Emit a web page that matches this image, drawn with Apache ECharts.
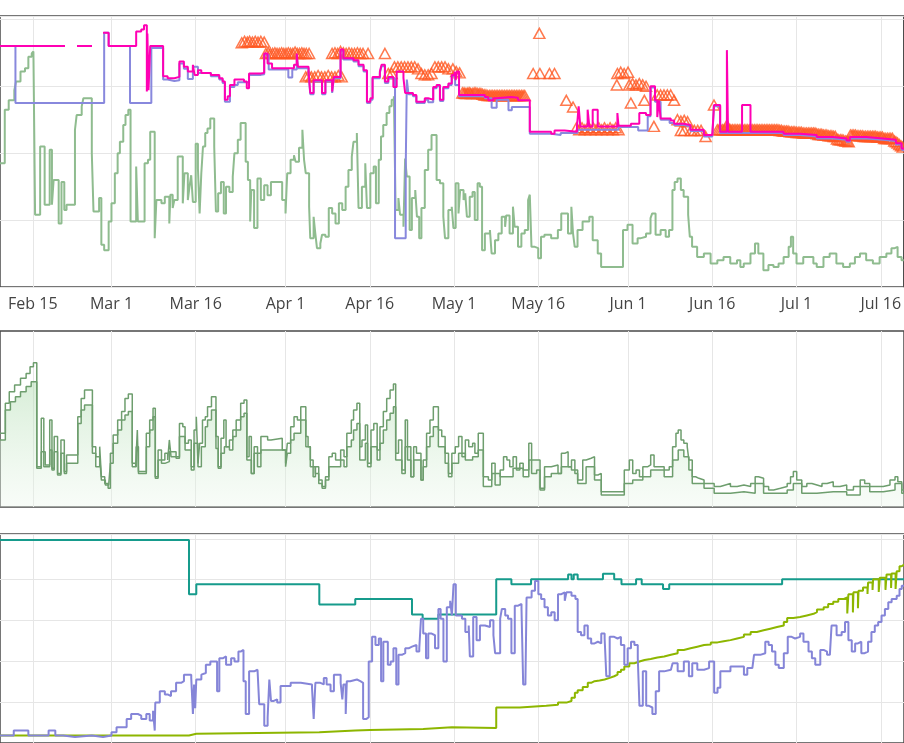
<!DOCTYPE html>
<html>
<head>
<meta charset="utf-8">
<script src="https://cdn.jsdelivr.net/npm/echarts@6/dist/echarts.min.js"></script>
<style>
html, body { margin: 0; padding: 0; background: #fff; }
#chart { width: 904px; height: 743px; }
</style>
</head>
<body>
<div id="chart"></div>
<script>
// x values are days counted from Feb 15
var tickDays = [0, 14, 29, 45, 60, 75, 90, 106, 121, 136, 151];
var tickLabels = ['Feb 15', 'Mar 1', 'Mar 16', 'Apr 1', 'Apr 16', 'May 1', 'May 16', 'Jun 1', 'Jun 16', 'Jul 1', 'Jul 16'];
var dayMin = -5.85, dayMax = 155.1;

// panel 1 : prices
var buyBoxLead = [[-5.85, 36.0], [12.5, 36.0]];
var buyBox = [[12.5,38.0],[13.5,36.0],[18.4,38.2],[19.3,38.5],[19.8,39.1],[20.3,29.2],[20.4,37.9],[20.6,29.4],[20.9,36.0],[23.2,31.5],[24.0,31.2],[25.2,31.4],[26.1,33.7],[26.9,32.9],[27.6,32.2],[28.5,33.2],[28.8,31.7],[29.4,32.4],[30.0,32.0],[31.7,31.7],[33.2,31.2],[33.8,30.7],[34.2,28.0],[34.7,28.5],[35.1,30.2],[35.9,31.0],[37.6,30.7],[38.1,29.7],[38.5,31.9],[40.6,32.0],[41.2,34.9],[41.8,33.4],[42.6,32.7],[44.7,32.7],[46.5,33.2],[47.0,34.9],[47.2,32.9],[49.1,32.2],[49.4,29.0],[50.0,30.9],[51.5,29.0],[52.1,30.9],[53.3,29.2],[53.6,31.4],[54.8,35.5],[55.3,34.2],[57.1,33.9],[58.0,33.2],[58.9,32.4],[59.5,27.7],[60.1,28.2],[60.5,31.4],[61.8,32.2],[62.1,33.2],[62.7,30.7],[63.3,31.4],[64.2,29.9],[64.8,32.2],[66.0,31.2],[66.3,29.0],[67.7,28.7],[68.3,27.7],[69.8,28.2],[70.4,28.0],[71.3,29.9],[71.9,30.2],[72.5,28.0],[73.1,29.9],[74.0,30.4],[74.6,31.7],[75.1,32.2],[75.3,30.9],[75.5,32.2],[75.9,28.7],[80.5,28.4],[81.1,27.9],[82.0,28.2],[82.6,28.4],[85.2,28.3],[86.4,27.9],[88.5,23.2],[92.3,22.9],[92.9,23.4],[94.7,23.2],[96.9,24.0],[97.2,27.0],[97.5,24.0],[98.8,26.5],[99.1,24.0],[99.7,26.5],[100.6,24.0],[104.1,26.0],[104.3,24.1],[106.5,24.4],[108.0,26.0],[109.2,25.7],[110.0,30.0],[110.8,27.9],[111.2,25.4],[111.5,27.9],[111.8,25.2],[113.6,24.9],[114.2,24.4],[115.9,24.2],[117.1,23.5],[119.5,22.7],[121.0,22.9],[121.3,27.2],[122.4,23.2],[123.6,35.4],[123.8,23.2],[126.3,27.2],[127.8,23.2],[133.7,22.9],[136.6,22.7],[139.6,22.4],[142.5,22.2],[144.9,21.9],[145.5,22.4],[148.4,22.2],[151.4,22.0],[153.7,21.5],[154.7,20.7],[155.1,20.5]];
var newPrice = [[-5.85,36.0],[-3.1,27.5],[12.7,38.0],[13.5,36.0],[17.3,27.5],[21.1,35.7],[23.2,31.0],[24.0,30.8],[25.2,30.9],[26.1,33.4],[26.9,32.6],[27.6,31.1],[28.5,32.9],[29.4,32.0],[31.7,31.5],[33.2,31.0],[33.8,30.5],[34.2,27.7],[35.1,29.9],[35.9,30.2],[36.5,30.6],[38.5,31.7],[40.6,31.8],[41.2,34.7],[42.0,32.5],[44.7,32.5],[45.5,31.3],[46.2,32.5],[47.0,34.7],[47.2,32.7],[49.1,32.0],[49.4,28.8],[50.0,30.7],[51.5,28.8],[52.1,30.7],[53.3,29.0],[53.6,31.2],[54.8,35.3],[55.3,34.0],[57.1,33.7],[58.0,33.0],[58.9,32.2],[59.5,27.5],[60.1,28.0],[60.5,31.2],[61.8,32.0],[62.1,33.0],[62.7,30.5],[63.3,31.2],[64.5,7.3],[66.4,17.5],[66.6,31.0],[66.9,28.8],[67.7,28.5],[68.3,27.5],[69.8,28.0],[70.4,27.6],[71.3,29.7],[71.9,30.0],[72.5,27.8],[73.1,29.7],[74.0,30.2],[74.6,31.5],[75.2,30.2],[75.9,28.5],[80.5,28.2],[81.7,26.8],[82.6,28.0],[84.7,26.4],[85.3,26.9],[87.3,26.9],[88.5,22.9],[92.3,22.7],[94.0,23.0],[97.0,23.5],[104.3,23.9],[107.8,23.4],[109.5,25.5],[110.0,29.8],[110.8,27.7],[111.8,25.0],[113.4,24.5],[114.2,24.2],[115.9,24.0],[117.1,23.3],[119.5,22.5],[121.0,22.7],[121.3,27.0],[122.4,23.0],[127.8,23.0],[133.7,22.7],[136.6,22.5],[139.6,22.2],[142.5,22.0],[144.9,21.7],[145.5,22.2],[148.4,22.0],[151.4,21.8],[153.7,21.3],[154.7,20.5],[155.1,20.3]];
var salesRank = [[-5.85,18.5],[-5.0,26.5],[-4.3,27.9],[-3.3,29.4],[-3.0,30.7],[-2.2,32.2],[-1.4,32.7],[-0.8,34.4],[-0.2,34.9],[0.1,35.2],[0.4,10.8],[1.3,21.0],[2.1,12.3],[3.0,20.5],[3.4,12.3],[3.7,16.0],[4.6,9.5],[5.1,15.7],[5.6,11.5],[6.0,12.3],[7.5,23.5],[7.8,25.7],[8.7,27.0],[9.0,28.2],[10.5,20.0],[10.8,11.3],[11.8,13.3],[12.2,6.3],[12.7,5.5],[13.5,9.8],[14.0,12.5],[14.6,17.0],[15.1,20.0],[15.5,21.7],[16.1,24.2],[16.5,25.7],[17.0,26.5],[17.4,9.8],[18.4,18.0],[18.7,9.8],[19.9,18.5],[20.5,19.0],[20.9,23.2],[21.7,7.3],[22.0,13.0],[22.9,12.5],[23.5,13.5],[24.3,9.5],[24.5,13.8],[24.9,11.8],[25.2,13.0],[25.8,19.5],[26.7,12.5],[27.0,17.0],[27.6,13.0],[27.9,15.0],[28.2,16.7],[28.5,12.7],[29.0,21.4],[29.4,17.7],[29.7,11.0],[30.0,17.0],[30.3,21.0],[30.7,23.0],[31.1,23.7],[31.6,25.2],[32.3,21.0],[32.6,11.3],[33.0,14.0],[33.5,15.7],[34.0,11.0],[34.4,15.0],[35.0,14.2],[35.6,16.5],[35.9,20.0],[36.5,22.0],[37.0,24.5],[37.9,18.7],[38.3,16.0],[38.7,9.8],[38.9,14.5],[39.4,8.8],[40.0,16.2],[40.6,13.0],[41.2,15.2],[41.8,13.7],[42.4,15.7],[44.4,13.0],[45.0,11.0],[45.3,17.0],[45.9,19.0],[46.5,19.7],[46.8,18.7],[47.4,20.8],[48.0,23.5],[48.3,19.0],[48.6,17.0],[49.2,12.0],[49.4,7.3],[50.0,10.5],[50.3,8.0],[50.6,5.8],[51.2,6.5],[51.5,7.8],[52.1,7.5],[52.7,11.8],[53.3,11.0],[53.9,9.5],[54.5,12.5],[55.1,11.5],[55.7,15.0],[56.2,17.5],[56.8,19.5],[57.1,21.7],[57.7,23.0],[58.0,11.8],[58.6,15.0],[59.2,18.5],[59.5,11.8],[60.1,17.0],[60.7,18.0],[61.1,12.5],[61.6,19.0],[62.0,22.5],[62.4,24.2],[63.0,26.0],[63.5,27.0],[63.9,28.0],[64.3,28.5],[64.6,11.5],[65.1,13.3],[65.4,10.8],[66.0,9.0],[66.3,19.2],[66.6,16.5],[67.1,8.5],[67.5,13.3],[68.1,14.5],[68.4,10.5],[68.8,7.3],[69.2,11.8],[69.8,17.5],[70.4,20.5],[71.0,22.7],[71.9,16.0],[72.5,15.5],[73.1,10.5],[73.4,7.3],[74.0,11.5],[74.6,12.0],[74.9,8.8],[75.3,15.5],[75.8,11.0],[76.1,14.5],[76.7,13.0],[77.0,14.0],[77.3,10.5],[77.8,13.5],[78.3,14.2],[78.7,10.0],[79.2,15.5],[79.6,15.0],[80.0,5.5],[80.5,8.0],[81.4,8.5],[81.7,5.0],[82.3,7.0],[82.9,8.0],[83.5,10.5],[84.1,9.0],[84.3,10.7],[84.9,8.0],[85.5,12.0],[85.8,9.0],[86.4,6.0],[87.0,8.0],[87.6,8.5],[88.2,13.0],[88.5,13.8],[88.8,6.0],[89.4,5.8],[90.0,4.3],[90.5,7.5],[91.1,7.8],[92.3,7.3],[93.5,8.5],[94.1,11.0],[95.3,8.0],[95.9,12.0],[96.2,8.0],[96.5,6.0],[97.0,8.5],[97.9,9.8],[99.1,10.5],[99.7,7.0],[100.6,5.0],[101.2,3.0],[105.1,8.5],[105.9,9.3],[106.8,6.5],[107.7,7.3],[108.3,7.5],[109.2,8.0],[110.0,10.3],[110.3,11.0],[110.9,7.8],[111.8,8.5],[112.7,7.5],[113.3,8.5],[113.9,14.5],[114.3,15.7],[114.8,16.2],[115.4,14.5],[115.9,13.5],[116.7,10.8],[117.0,7.5],[117.4,6.0],[118.3,4.5],[119.5,5.0],[120.7,3.5],[121.9,4.0],[123.0,4.5],[124.2,3.5],[125.4,4.0],[126.0,3.0],[126.6,3.5],[127.8,5.0],[128.6,6.5],[129.2,5.0],[130.1,2.5],[131.0,3.3],[131.9,3.0],[132.8,3.5],[133.7,4.5],[134.6,6.0],[135.0,7.5],[135.4,5.0],[136.0,3.5],[137.2,4.5],[138.4,4.5],[139.0,3.5],[139.6,3.0],[140.8,4.5],[141.9,5.0],[143.1,3.5],[144.3,3.0],[145.5,3.5],[146.4,4.5],[147.3,5.0],[148.4,4.0],[149.6,3.5],[150.8,4.5],[152.0,5.0],[152.9,5.8],[153.5,6.0],[154.0,4.5],[154.7,4.0],[155.1,4.0]];
var fbaOffers = [[37.2,36.5],[37.7,36.7],[38.2,36.6],[38.6,36.7],[39.1,36.6],[39.6,36.7],[40.1,36.6],[40.6,36.7],[41.2,36.6],
  [41.5,34.9],[41.9,35.0],[42.3,34.9],[42.7,34.9],[43.1,35.0],[43.5,34.9],[43.9,34.9],[44.3,35.0],[44.7,34.9],[45.1,34.9],[45.5,35.0],[45.9,34.9],[46.3,34.9],[46.7,35.1],[47.1,34.9],[47.5,34.9],[47.9,35.0],[48.3,34.9],[48.7,34.9],[49.2,34.9],
  [48.6,31.4],[49.1,31.6],[49.6,31.4],[50.2,31.4],[50.8,31.6],[51.4,31.4],[52.0,31.4],[52.6,31.6],[53.2,31.4],[53.8,31.4],[54.4,31.6],[55.0,31.4],
  [53.3,34.9],[53.8,35.0],[54.3,34.9],[54.8,35.2],[55.3,35.0],[55.8,34.9],[56.3,35.0],[56.8,34.9],[57.3,34.9],[57.8,35.0],[58.3,34.9],[58.8,34.9],[59.7,34.9],
  [62.7,34.9],[63.3,31.9],[63.9,31.9],[64.4,32.9],[65.0,32.9],[65.6,32.9],[66.2,32.9],[66.8,32.9],[67.4,32.9],[68.0,32.9],[68.6,32.6],[69.2,31.9],[69.8,31.7],[70.4,31.7],[71.0,31.9],[71.6,32.9],[72.2,32.9],[72.8,32.9],[73.4,32.9],[74.0,32.6],
  [74.8,32.6],[75.4,32.2],[76.0,32.0],
  [76.5,29.0],[76.8,29.0],[77.0,28.9],[77.3,28.9],[77.5,29.0],[77.8,29.0],[78.0,28.9],[78.3,28.9],[78.6,29.0],[78.9,29.0],[79.2,28.9],[79.5,28.9],[79.8,28.9],[80.1,28.8],[80.4,28.7],[80.7,28.7],[81.0,28.6],[81.3,28.6],[81.6,28.6],[81.9,28.6],[82.2,28.6],[82.5,28.6],[82.8,28.6],[83.1,28.6],[83.4,28.6],[83.7,28.6],[84.0,28.6],[84.3,28.6],[84.6,28.6],[84.9,28.6],[85.2,28.6],[85.5,28.6],[85.8,28.6],[86.1,28.6],[86.4,28.6],[86.7,28.6],[87.0,28.6],[87.3,28.6],[87.6,28.6],
  [89.1,31.9],[90.3,31.9],[92.0,31.9],[92.9,31.9],[90.2,37.9],[95.0,27.9],[96.2,26.9],
  [96.8,23.8],[97.3,23.5],[97.8,23.8],[98.3,23.5],[98.8,23.8],[99.3,23.5],[99.8,23.8],[100.3,23.5],[100.8,23.8],[101.3,23.5],[101.8,23.8],[102.3,23.5],[102.8,23.8],[103.3,23.5],[103.8,23.8],[104.3,23.5],
  [104.1,31.9],[104.7,32.1],[105.3,31.9],[106.0,32.1],[104.0,30.2],[106.2,30.2],[106.8,30.4],[107.4,30.2],[108.0,30.4],[108.6,30.2],[109.2,30.0],
  [106.5,27.5],[108.9,27.9],[110.6,24.0],
  [111.2,28.7],[111.8,28.7],[112.4,28.7],[113.0,28.7],[113.6,28.7],[114.2,27.9],
  [114.8,25.0],[115.4,24.8],[116.0,24.9],[116.6,24.7],
  [115.4,23.4],[116.0,23.4],[117.2,23.4],[117.8,23.4],[118.4,23.4],[119.0,23.4],[119.8,22.5],
  [121.3,27.2],[123.6,24.2],
  [121.9,23.5],[122.2,23.5],[122.5,23.5],[122.8,23.5],[123.1,23.5],[123.4,23.5],[123.7,23.5],[124.0,23.5],[124.3,23.5],[124.6,23.5],[124.9,23.5],[125.2,23.5],[125.5,23.5],[125.8,23.5],[126.1,23.5],[126.4,23.5],[126.7,23.5],[127.0,23.5],[127.3,23.5],[127.6,23.5],[127.9,23.5],[128.2,23.5],[128.5,23.5],[128.8,23.5],[129.1,23.5],[129.4,23.5],[129.7,23.5],[130.0,23.5],[130.3,23.5],[130.6,23.5],[130.9,23.5],[131.2,23.5],[131.5,23.5],[131.8,23.5],[132.1,23.5],[132.4,23.5],[132.7,23.5],[133.0,23.4],[133.3,23.4],[133.6,23.3],[133.9,23.3],[134.2,23.3],[134.5,23.3],[134.8,23.2],[135.1,23.2],[135.4,23.2],[135.7,23.2],[136.0,23.1],[136.3,23.1],[136.6,23.1],[136.9,23.1],[137.2,23.0],[137.5,23.0],[137.8,23.0],[138.1,23.0],[138.4,23.0],[138.7,23.0],[139.0,23.0],[139.3,23.0],[139.6,22.9],[139.9,22.8],[140.2,22.8],[140.5,22.8],[140.8,22.7],[141.1,22.7],[141.4,22.7],[141.7,22.6],[142.0,22.6],[142.3,22.6],[142.6,22.5],[142.9,22.5],[143.2,22.1],[143.5,22.0],[143.8,22.0],[144.1,22.0],[144.4,21.9],[144.7,21.8],[145.0,21.8],[145.3,21.7],[145.6,22.7],[145.9,22.7],[146.2,22.7],[146.5,22.7],[146.8,22.6],[147.1,22.6],[147.4,22.6],[147.7,22.6],[148.0,22.5],[148.3,22.5],[148.6,22.5],[148.9,22.5],[149.2,22.5],[149.5,22.5],[149.8,22.5],[150.1,22.5],[150.4,22.4],[150.7,22.4],[151.0,22.4],[151.3,22.4],[151.6,22.2],[151.9,22.2],[152.2,22.2],[152.5,22.2],[152.8,22.2],[153.1,22.2],[153.4,21.8],[153.7,21.7],[154.0,21.5],[154.3,21.3],[154.6,21.1],[154.9,20.9]];

// panel 2 : rank band
var rankUpper = [[-5.85,41.9],[-4.9,58.9],[-4.2,65.5],[-3.25,69.3],[-2.2,73.1],[-1.2,75.9],[-0.5,79.7],[0.1,82.0],[0.7,22.9],[1.5,50.4],[1.95,22.9],[3.0,49.4],[3.4,22.0],[3.8,40.0],[4.4,19.1],[5.0,38.1],[5.6,20.1],[6.0,29.5],[8.0,51.3],[8.6,61.7],[9.2,66.5],[10.6,34.3],[11.2,28.6],[11.9,34.3],[12.2,17.2],[12.8,13.4],[13.4,10.6],[13.8,30.5],[14.3,40.9],[15.1,49.4],[15.8,54.2],[16.4,61.7],[17.0,64.2],[17.7,24.8],[18.3,22.9],[18.6,43.8],[18.8,20.1],[20.2,41.9],[20.8,49.4],[21.4,56.1],[21.8,17.2],[22.3,32.4],[22.9,26.7],[23.5,30.5],[24.0,26.7],[24.3,38.1],[24.6,28.6],[26.1,47.5],[26.7,45.6],[27.1,36.2],[27.7,38.1],[28.2,22.9],[28.7,43.8],[29.1,51.3],[29.4,24.8],[29.7,36.2],[30.2,49.4],[30.7,51.3],[31.1,57.0],[31.8,62.7],[32.6,40.0],[33.0,22.9],[33.5,39.0],[34.0,49.4],[34.4,34.3],[35.0,38.1],[35.6,43.8],[36.2,49.4],[37.0,58.9],[37.6,60.8],[38.1,28.6],[38.5,40.0],[38.9,19.1],[39.4,34.3],[40.0,22.9],[40.6,40.0],[41.8,38.1],[42.4,39.0],[44.4,32.4],[45.0,24.8],[45.3,36.2],[45.9,45.6],[46.5,51.3],[47.1,49.4],[47.7,57.0],[48.6,40.0],[49.0,34.3],[49.4,26.7],[49.9,17.2],[50.3,22.9],[50.9,15.3],[51.5,11.6],[52.1,17.2],[52.7,28.6],[53.3,30.5],[53.9,26.7],[54.8,32.4],[55.4,28.6],[55.9,41.9],[56.7,49.4],[57.1,55.1],[57.7,58.9],[58.2,34.3],[58.6,38.1],[59.2,46.6],[59.6,24.8],[60.2,43.8],[60.7,47.5],[61.3,32.4],[61.8,45.6],[62.4,54.2],[63.0,61.7],[63.6,66.5],[64.2,69.9],[64.6,30.5],[65.1,38.1],[65.7,21.0],[66.3,49.4],[66.7,26.7],[67.3,17.2],[67.8,34.3],[68.3,30.5],[69.1,15.3],[69.5,26.7],[70.1,41.9],[70.7,49.4],[71.3,57.0],[72.2,43.8],[72.8,40.0],[73.4,30.5],[74.0,19.1],[74.6,30.5],[75.2,34.3],[75.8,40.0],[76.4,28.6],[77.0,38.1],[77.6,34.3],[78.3,36.2],[78.7,30.5],[79.3,41.9],[80.2,17.2],[81.1,15.3],[81.7,24.8],[82.3,12.5],[83.2,21.0],[83.8,28.6],[84.4,26.7],[84.9,22.9],[85.5,28.6],[86.1,21.0],[86.7,24.8],[87.3,21.0],[88.3,36.2],[88.8,19.1],[89.7,21.0],[90.3,9.7],[91.1,22.9],[92.3,23.9],[93.5,19.1],[94.1,30.5],[94.7,31.4],[95.3,22.9],[95.9,26.7],[96.5,19.1],[97.0,15.3],[97.9,26.7],[98.5,27.7],[99.4,28.6],[100.0,18.2],[100.6,19.1],[101.2,8.7],[105.3,21.0],[106.2,26.7],[106.8,19.1],[107.4,21.0],[108.0,17.2],[108.6,22.9],[109.5,23.9],[110.0,29.5],[110.6,22.9],[112.4,21.0],[113.3,22.9],[113.9,34.3],[114.5,41.9],[114.9,43.8],[115.4,38.1],[115.9,36.2],[116.5,34.3],[116.8,26.7],[117.4,17.2],[118.0,16.3],[118.6,15.3],[119.5,13.4],[121.3,11.6],[122.4,12.5],[123.3,13.4],[124.2,11.6],[125.4,12.5],[126.6,11.6],[127.8,13.4],[128.6,17.2],[129.2,16.3],[130.1,11.6],[131.0,9.7],[131.9,10.6],[133.1,11.6],[134.3,13.4],[134.9,17.2],[135.4,20.1],[136.0,15.3],[136.9,11.6],[137.8,13.4],[138.7,12.5],[139.6,11.6],[140.5,13.4],[141.4,14.4],[142.5,11.6],[143.7,12.5],[144.9,9.7],[146.1,11.6],[147.3,15.3],[148.1,13.4],[149.0,11.6],[150.2,11.6],[151.4,12.5],[152.6,15.3],[153.5,17.2],[154.0,14.4],[154.7,9.7],[155.1,9.7]];
var rankLower = [[-5.85,38.1],[-4.9,55.1],[-4.0,59.8],[-3.1,62.7],[-2.2,65.5],[-1.2,68.4],[-0.3,71.2],[0.7,22.0],[1.5,31.4],[2.2,23.9],[3.0,32.4],[3.4,21.0],[3.8,31.4],[4.4,18.2],[5.0,30.5],[5.6,19.1],[6.0,24.8],[8.0,47.5],[8.6,55.1],[9.2,58.0],[10.6,30.5],[11.2,22.9],[11.9,28.6],[12.2,15.3],[12.9,12.5],[13.5,11.6],[13.8,24.8],[14.3,36.2],[15.1,43.8],[15.8,49.4],[16.4,52.3],[17.0,54.2],[17.7,22.9],[18.4,34.3],[18.8,19.1],[20.2,34.3],[20.8,43.8],[21.4,51.3],[21.8,16.3],[22.3,26.7],[22.9,24.8],[23.5,25.8],[24.3,31.4],[25.5,27.7],[26.1,40.0],[27.1,32.4],[28.2,21.0],[28.7,36.2],[29.4,22.9],[30.0,34.3],[30.7,45.6],[31.1,49.4],[31.8,55.1],[32.6,33.3],[33.0,22.0],[33.5,30.5],[34.1,34.3],[35.0,32.4],[35.6,40.0],[36.2,43.8],[37.0,51.3],[37.6,53.2],[38.1,26.7],[38.9,19.1],[39.4,30.5],[40.6,32.4],[45.0,22.9],[45.3,30.5],[45.9,38.1],[46.5,41.9],[47.7,49.4],[48.6,34.3],[49.4,22.9],[50.3,19.1],[50.9,13.4],[51.5,10.6],[52.1,15.3],[52.7,22.9],[54.8,26.7],[55.4,22.9],[55.9,34.3],[56.7,38.1],[57.1,43.8],[57.7,47.5],[58.2,26.7],[59.2,36.2],[59.6,22.9],[60.2,34.3],[61.3,26.7],[61.8,36.2],[62.4,43.8],[63.0,49.4],[63.6,53.2],[64.2,57.0],[64.6,26.7],[65.7,19.1],[66.3,34.3],[67.3,17.2],[67.8,26.7],[69.1,15.3],[69.5,22.9],[70.1,34.3],[70.7,40.0],[71.3,45.6],[72.2,34.3],[73.4,24.8],[74.0,17.2],[74.6,24.8],[75.8,30.5],[77.0,26.7],[78.3,28.6],[79.3,32.4],[80.2,11.6],[81.7,19.1],[83.2,17.2],[85.5,22.0],[87.3,17.2],[88.3,26.7],[90.3,10.6],[91.1,17.2],[92.3,19.1],[94.1,22.9],[95.9,21.0],[97.0,13.4],[98.5,22.9],[100.0,15.3],[101.2,6.8],[105.3,13.4],[106.8,15.3],[108.6,17.2],[110.0,21.0],[112.4,17.2],[113.9,26.7],[114.9,32.4],[115.9,28.6],[116.8,21.0],[117.4,13.4],[119.5,10.6],[121.3,7.8],[124.2,8.7],[126.6,7.8],[128.6,13.4],[130.1,7.8],[131.9,7.8],[134.3,9.7],[135.4,13.4],[136.9,7.8],[139.6,8.7],[142.5,8.7],[144.9,6.8],[147.3,11.6],[149.0,8.7],[151.4,9.7],[153.5,13.4],[154.7,7.8],[155.1,7.8]];

// panel 3 : counts
var ratingLevel = [[-5.85,99.5],[27.8,72.9],[29.1,77.8],[51.0,67.8],[57.4,70.5],[67.5,63.0],[69.4,60.9],[72.2,63.0],[82.5,80.2],[85.2,77.8],[88.7,80.2],[95.3,82.6],[95.9,80.2],[96.3,82.6],[97.0,80.2],[101.5,82.9],[103.5,80.2],[104.8,77.8],[107.4,80.2],[108.4,77.8],[112.2,75.4],[113.3,77.8],[133.4,80.2],[155.1,80.2]];
var offerCount = [[-5.85,3.7],[-3.4,6.1],[-0.8,3.7],[2.8,6.1],[4.0,3.7],[5.4,2.9],[7.5,3.7],[10.5,2.9],[12.5,3.7],[14.0,5.3],[14.9,7.7],[16.7,11.8],[17.5,14.2],[18.7,13.4],[19.3,11.8],[20.2,14.2],[20.8,11.0],[21.4,15.8],[21.7,6.1],[21.8,19.8],[22.6,25.4],[23.5,23.8],[24.0,23.0],[24.6,25.4],[25.5,29.5],[26.4,30.3],[26.9,33.5],[28.2,31.9],[28.5,14.2],[28.7,28.7],[28.9,17.0],[29.1,31.1],[30.0,33.5],[30.2,34.3],[30.8,38.3],[31.6,39.9],[32.8,25.4],[33.2,41.5],[33.8,42.4],[34.4,38.3],[35.3,41.5],[35.9,39.9],[36.6,44.8],[37.0,45.6],[37.5,30.3],[37.9,14.2],[38.5,35.1],[39.4,35.9],[40.0,35.1],[40.3,19.0],[41.2,8.5],[41.8,12.6],[42.1,31.1],[42.4,20.6],[42.9,21.4],[43.5,19.8],[44.1,27.9],[45.9,29.5],[47.7,28.7],[49.7,27.1],[50.0,11.8],[50.3,29.5],[51.2,28.7],[51.8,31.9],[52.3,28.7],[53.0,25.4],[53.6,33.5],[54.8,29.5],[55.1,21.4],[55.3,28.7],[55.7,14.2],[55.9,30.3],[56.5,31.1],[57.7,30.3],[58.3,29.5],[58.8,11.8],[59.4,12.6],[59.8,39.9],[60.4,52.0],[61.0,48.0],[61.6,51.2],[62.0,30.3],[62.4,49.6],[63.2,38.3],[63.7,39.9],[64.2,46.4],[64.7,28.7],[65.1,43.2],[65.7,44.0],[66.3,46.4],[66.9,47.2],[67.5,48.0],[68.3,44.8],[68.8,46.4],[69.1,60.9],[69.5,53.6],[70.0,41.5],[70.4,53.6],[71.0,52.8],[71.6,46.4],[72.2,65.7],[72.6,60.9],[73.1,39.9],[73.7,66.5],[74.3,69.7],[74.6,62.5],[74.9,77.8],[75.3,62.5],[76.4,60.9],[77.0,54.4],[77.6,57.6],[77.8,42.4],[78.4,61.7],[79.0,50.4],[79.6,57.6],[80.5,56.8],[81.4,60.1],[82.0,52.8],[82.3,44.0],[83.2,60.9],[83.5,65.7],[84.1,62.5],[84.6,60.9],[85.2,44.0],[85.8,67.3],[86.4,68.1],[87.0,65.7],[87.3,28.7],[87.7,30.3],[87.9,71.3],[88.8,74.6],[89.4,79.4],[90.0,72.9],[90.5,70.5],[91.1,66.5],[91.7,62.5],[92.3,64.1],[92.9,60.1],[93.5,72.9],[94.1,73.8],[94.7,69.7],[95.0,73.8],[95.9,72.1],[96.6,70.5],[97.0,54.4],[97.6,52.8],[98.2,57.6],[98.8,51.2],[99.4,48.8],[100.0,49.6],[100.6,48.8],[101.2,53.6],[101.8,51.2],[102.1,32.7],[102.7,52.0],[103.5,51.2],[104.1,52.0],[104.7,48.0],[105.3,38.3],[105.9,46.4],[106.5,49.6],[107.1,48.0],[107.7,41.5],[108.0,18.2],[108.6,35.1],[109.2,18.2],[109.7,17.4],[110.3,14.2],[110.9,25.4],[111.5,35.1],[112.4,35.9],[113.6,35.1],[113.9,39.1],[114.8,35.1],[115.9,39.9],[116.8,32.7],[117.4,39.1],[118.3,35.9],[119.5,36.7],[120.4,39.9],[121.3,24.6],[121.9,27.1],[122.4,35.1],[124.2,37.5],[126.6,33.5],[127.2,36.7],[128.1,35.9],[128.4,43.2],[129.5,44.0],[130.4,49.6],[131.0,48.0],[131.6,44.8],[132.2,38.3],[132.8,36.7],[133.7,44.0],[134.4,52.0],[135.1,51.2],[135.7,52.0],[136.6,53.6],[137.2,49.6],[138.1,44.8],[138.7,41.5],[139.3,38.3],[140.2,45.6],[140.8,44.8],[141.4,43.2],[141.9,44.0],[142.2,57.6],[143.1,52.8],[144.0,54.4],[144.6,59.3],[145.2,50.4],[145.8,44.8],[146.4,48.8],[146.9,49.6],[147.5,44.0],[148.1,44.8],[148.7,49.6],[149.3,54.4],[149.9,57.6],[150.5,59.3],[151.1,62.5],[151.7,65.7],[152.3,68.9],[152.9,70.5],[153.8,72.1],[154.3,75.4],[154.7,77.0],[155.1,77.0]];
var reviewCount = [[-5.85,3.7],[27.8,4.5],[29.1,5.3],[51.0,6.1],[57.4,6.4],[60.0,6.9],[69.5,7.7],[74.6,7.4],[82.5,17.4],[86.7,18.2],[91.4,18.7],[93.5,19.8],[95.0,20.6],[95.9,22.2],[96.5,24.6],[97.0,25.8],[97.9,27.4],[98.8,29.5],[99.4,30.3],[100.0,30.6],[100.9,31.1],[101.8,31.9],[102.7,32.7],[103.5,33.5],[104.1,34.8],[104.7,35.9],[105.3,37.5],[106.2,39.1],[107.1,39.9],[108.0,40.7],[108.9,41.2],[110.0,41.9],[111.2,42.4],[112.4,43.2],[113.6,44.0],[114.8,45.6],[115.9,46.4],[117.1,47.2],[118.3,48.0],[119.5,48.3],[120.7,49.3],[121.9,49.9],[123.0,50.4],[124.2,51.2],[125.4,52.0],[126.6,53.1],[127.8,54.4],[128.9,55.2],[130.1,56.0],[131.3,56.8],[132.5,57.6],[133.7,59.3],[134.3,61.2],[135.4,61.7],[136.6,62.5],[137.8,63.3],[139.0,64.1],[139.6,65.4],[140.8,66.5],[141.6,68.1],[142.5,69.2],[143.4,70.5],[144.3,71.3],[145.0,63.5],[145.2,72.9],[146.0,64.0],[146.1,73.8],[146.9,66.0],[147.0,74.6],[147.8,76.2],[148.6,73.0],[148.7,78.6],[149.5,75.0],[149.6,80.2],[150.6,74.0],[150.8,81.0],[151.8,75.0],[152.0,82.6],[152.8,76.0],[152.9,83.1],[153.6,75.5],[153.8,84.2],[154.3,86.6],[154.7,87.4],[155.1,87.4]];

var chart = echarts.init(document.getElementById('chart'), null, { renderer: 'canvas' });

var gridLine = { show: true, lineStyle: { color: '#e6e6e6', width: 1 } };

var makeX = function(idx, labels) {
  return {
    type: 'value', gridIndex: idx, min: dayMin, max: dayMax,
    axisLine: { show: false },
    axisTick: { show: false, customValues: tickDays },
    axisLabel: {
      show: labels, customValues: tickDays, margin: 9,
      color: '#444', fontSize: 16, fontFamily: 'Open Sans',
      formatter: function(v) { return tickLabels[tickDays.indexOf(v)] || ''; }
    },
    splitLine: gridLine
  };
};

var makeY = function(idx, max, interval, split) {
  return {
    type: 'value', gridIndex: idx, min: 0, max: max, interval: interval,
    axisLine: { show: false }, axisTick: { show: false }, axisLabel: { show: false },
    splitLine: split ? gridLine : { show: false }
  };
};

var stepLine = function(name, data, color, width, xi, extra) {
  var s = {
    name: name, type: 'line', step: 'end', data: data,
    xAxisIndex: xi, yAxisIndex: xi, symbol: 'none', silent: true,
    lineStyle: { color: color, width: width }
  };
  for (var k in extra) s[k] = extra[k];
  return s;
};

var border = { show: true, borderColor: '#4a4a4a', borderWidth: 1.5, backgroundColor: 'rgba(0,0,0,0)' };

var options = {
  animation: false,
  backgroundColor: '#fff',
  grid: [
    Object.assign({ left: -2, right: -2, top: 16, height: 271 }, border),
    Object.assign({ left: -2, right: -2, top: 331, height: 176 }, border),
    Object.assign({ left: -2, right: -2, top: 534, height: 212 }, border)
  ],
  xAxis: [makeX(0, true), makeX(1, false), makeX(2, false)],
  yAxis: [makeY(0, 40.5, 10, true), makeY(1, 100, 20, false), makeY(2, 102.4, 20, true)],
  series: [
    stepLine('Sales Rank', salesRank, '#8fbc8f', 2, 0),
    stepLine('New', newPrice, '#8888dd', 2, 0),
    {
      name: 'FBA', type: 'scatter', data: fbaOffers, xAxisIndex: 0, yAxisIndex: 0,
      symbol: 'triangle', symbolSize: [11, 10], silent: true,
      itemStyle: { color: 'rgba(255,255,255,0)', borderColor: '#ff5722', borderWidth: 1.5 }
    },
    {
      name: 'Buy Box lead', type: 'line', data: buyBoxLead, xAxisIndex: 0, yAxisIndex: 0,
      symbol: 'none', silent: true,
      lineStyle: { color: '#ff00b4', width: 2, type: [65, 12, 15, 12] }
    },
    stepLine('Buy Box', buyBox, '#ff00b4', 2, 0),
    stepLine('Rank upper', rankUpper, '#6e9e6e', 1.5, 1),
    stepLine('Rank lower', rankLower, '#6e9e6e', 1.5, 1, {
      areaStyle: {
        color: new echarts.graphic.LinearGradient(0, 0, 0, 1, [
          { offset: 0, color: 'rgba(180,222,180,0.75)' },
          { offset: 1, color: 'rgba(235,247,235,0.5)' }
        ])
      }
    }),
    stepLine('Rating', ratingLevel, '#169b8c', 2, 2),
    stepLine('Reviews', reviewCount, '#8db600', 2, 2),
    stepLine('Offers', offerCount, '#8585d8', 2, 2)
  ]
};

chart.setOption(options);
</script>
</body>
</html>
